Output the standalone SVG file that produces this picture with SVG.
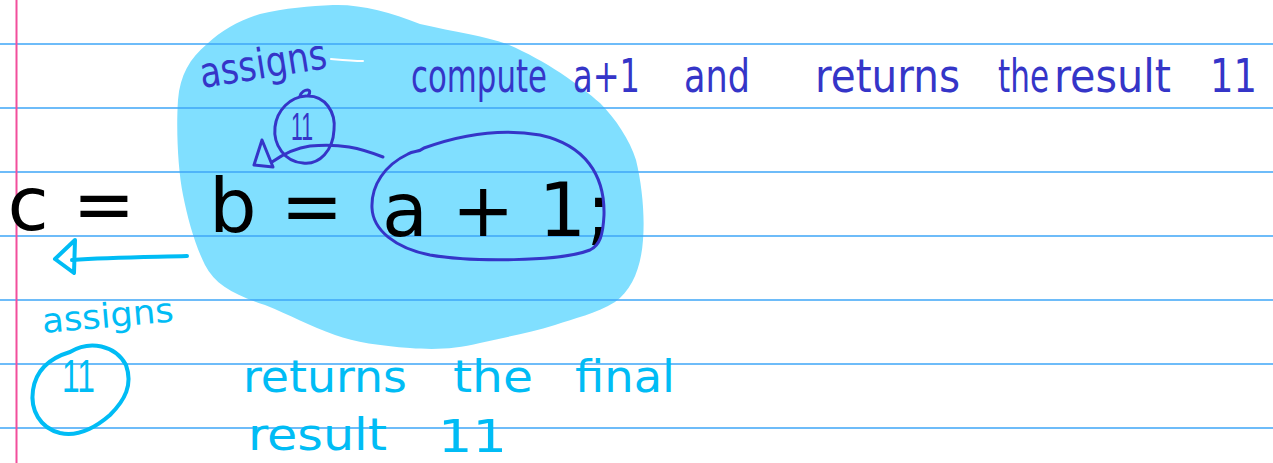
<svg xmlns="http://www.w3.org/2000/svg" width="1273" height="463" viewBox="0 0 1273 463">
  <style>
    .rule { stroke: #3ea6f7; stroke-width: 1.6; fill: none; }
    .margin { stroke: #f24f9c; stroke-width: 2; fill: none; }
    .code { font-family: "DejaVu Sans", "Liberation Sans", sans-serif; font-size: 75px; fill: #000000; }
    .hand { font-family: "DejaVu Sans", "Liberation Sans", sans-serif; }
    .dark { fill: #3535c8; }
    .cyan { fill: #00bcf5; }
    .darkline { stroke: #3535c8; stroke-width: 3; fill: none; stroke-linecap: round; stroke-linejoin: round; }
    .cyanline { stroke: #00bcf5; stroke-width: 4; fill: none; stroke-linecap: round; stroke-linejoin: round; }
  </style>
  <rect width="1273" height="463" fill="#ffffff"/>

  <g id="highlight-blob">
    <path fill="#80dfff" d="M 333 5 C 360 4, 390 12, 420 24 C 455 32, 485 36, 507 44 C 545 60, 580 85, 600 103 C 615 118, 630 140, 636 160 C 642 185, 645 215, 643 240 C 641 268, 632 290, 615 302 C 595 314, 575 318, 555 325 C 530 333, 505 337, 480 343 C 455 349, 435 350, 410 348 C 380 346, 355 342, 335 335 C 310 326, 290 315, 265 305 C 235 295, 215 285, 205 265 C 195 245, 188 220, 183 195 C 178 170, 176 130, 178 100 C 180 75, 190 58, 207 44 C 222 30, 240 20, 260 14 C 285 8, 310 6, 333 5 Z"/>
    <path d="M 331 59 C 342 60, 352 61, 363 61" stroke="#ffffff" stroke-width="2" fill="none" stroke-linecap="round"/>
  </g>

  <g id="paper-rules">
    <line class="rule" x1="0" y1="44" x2="1273" y2="44"/>
    <line class="rule" x1="0" y1="108" x2="1273" y2="108"/>
    <line class="rule" x1="0" y1="172" x2="1273" y2="172"/>
    <line class="rule" x1="0" y1="236" x2="1273" y2="236"/>
    <line class="rule" x1="0" y1="300" x2="1273" y2="300"/>
    <line class="rule" x1="0" y1="364" x2="1273" y2="364"/>
    <line class="rule" x1="0" y1="428" x2="1273" y2="428"/>
    <line class="margin" x1="16.5" y1="0" x2="16.5" y2="463"/>
  </g>

  <g id="code-c">
    <text class="code" x="7.5" y="230">c =</text>
  </g>
  <g id="code-b">
    <text class="code" x="209" y="232">b = <tspan x="382" y="236">a + 1;</tspan></text>
  </g>

  <g id="ellipse-a-plus-1">
    <path class="darkline" d="M 408 154 C 414 150, 418 153, 424 148 C 460 135, 500 128, 540 135 C 585 145, 605 175, 604 215 C 603 235, 600 245, 590 250 C 560 262, 470 262, 430 255 C 395 248, 373 230, 372 208 C 371 185, 385 165, 408 154"/>
  </g>

  <g id="note-compute">
    <text class="hand dark" font-size="46" y="92"><tspan x="411" textLength="136" lengthAdjust="spacingAndGlyphs">compute</tspan> <tspan x="573" textLength="67" lengthAdjust="spacingAndGlyphs">a+1</tspan> <tspan x="684" textLength="66" lengthAdjust="spacingAndGlyphs">and</tspan> <tspan x="815" textLength="145" lengthAdjust="spacingAndGlyphs">returns</tspan> <tspan x="998" textLength="51" lengthAdjust="spacingAndGlyphs">the</tspan> <tspan x="1054" textLength="117" lengthAdjust="spacingAndGlyphs">result</tspan> <tspan x="1210" textLength="47" lengthAdjust="spacingAndGlyphs">11</tspan></text>
  </g>

  <g id="note-assigns-b">
    <text class="hand dark" font-size="42" x="202" y="88" textLength="128" lengthAdjust="spacingAndGlyphs" transform="rotate(-9 202 88)">assigns</text>
  </g>

  <g id="circle-11-b">
    <path class="darkline" d="M 300 96 C 303 88, 314 88, 308 96 C 325 96, 336 112, 334 130 C 333 150, 320 165, 303 163 C 285 162, 273 145, 275 127 C 277 110, 290 97, 306 96"/>
    <text class="dark" font-family="Liberation Sans, Arial, sans-serif" font-size="38" x="291" y="140" textLength="22" lengthAdjust="spacingAndGlyphs">11</text>
  </g>

  <g id="note-assigns-c">
    <text class="hand cyan" font-size="34" x="43" y="333" textLength="132" lengthAdjust="spacingAndGlyphs" transform="rotate(-5 43 333)">assigns</text>
  </g>

  <g id="circle-11-c">
    <path class="cyanline" d="M 70 352 C 90 340, 115 345, 126 365 C 133 385, 125 400, 110 415 C 95 428, 78 437, 60 433 C 40 428, 30 410, 33 390 C 36 370, 50 358, 70 352 Z"/>
    <text class="cyan" font-family="Liberation Sans, Arial, sans-serif" font-size="46" x="62" y="392" textLength="33" lengthAdjust="spacingAndGlyphs">11</text>
  </g>

  <g id="note-final">
    <text class="hand cyan" font-size="44"><tspan x="243" y="392" textLength="164" lengthAdjust="spacingAndGlyphs">returns</tspan> <tspan x="453" y="392" textLength="80" lengthAdjust="spacingAndGlyphs">the</tspan> <tspan x="575" y="392" textLength="100" lengthAdjust="spacingAndGlyphs">final</tspan> <tspan x="248" y="450" textLength="139" lengthAdjust="spacingAndGlyphs">result</tspan> <tspan x="438" y="452" textLength="69" lengthAdjust="spacingAndGlyphs">11</tspan></text>
  </g>

  <g id="connectors">
    <path class="darkline" d="M 383 157 C 360 148, 340 143, 310 146 C 295 148, 282 155, 272 162"/>
    <polygon class="darkline" points="262,140 254,165 273,167"/>
    <path class="cyanline" d="M 187 256 C 150 257, 110 257, 72 260"/>
    <polygon class="cyanline" points="75,240 55,259 74,273"/>
  </g>
</svg>
